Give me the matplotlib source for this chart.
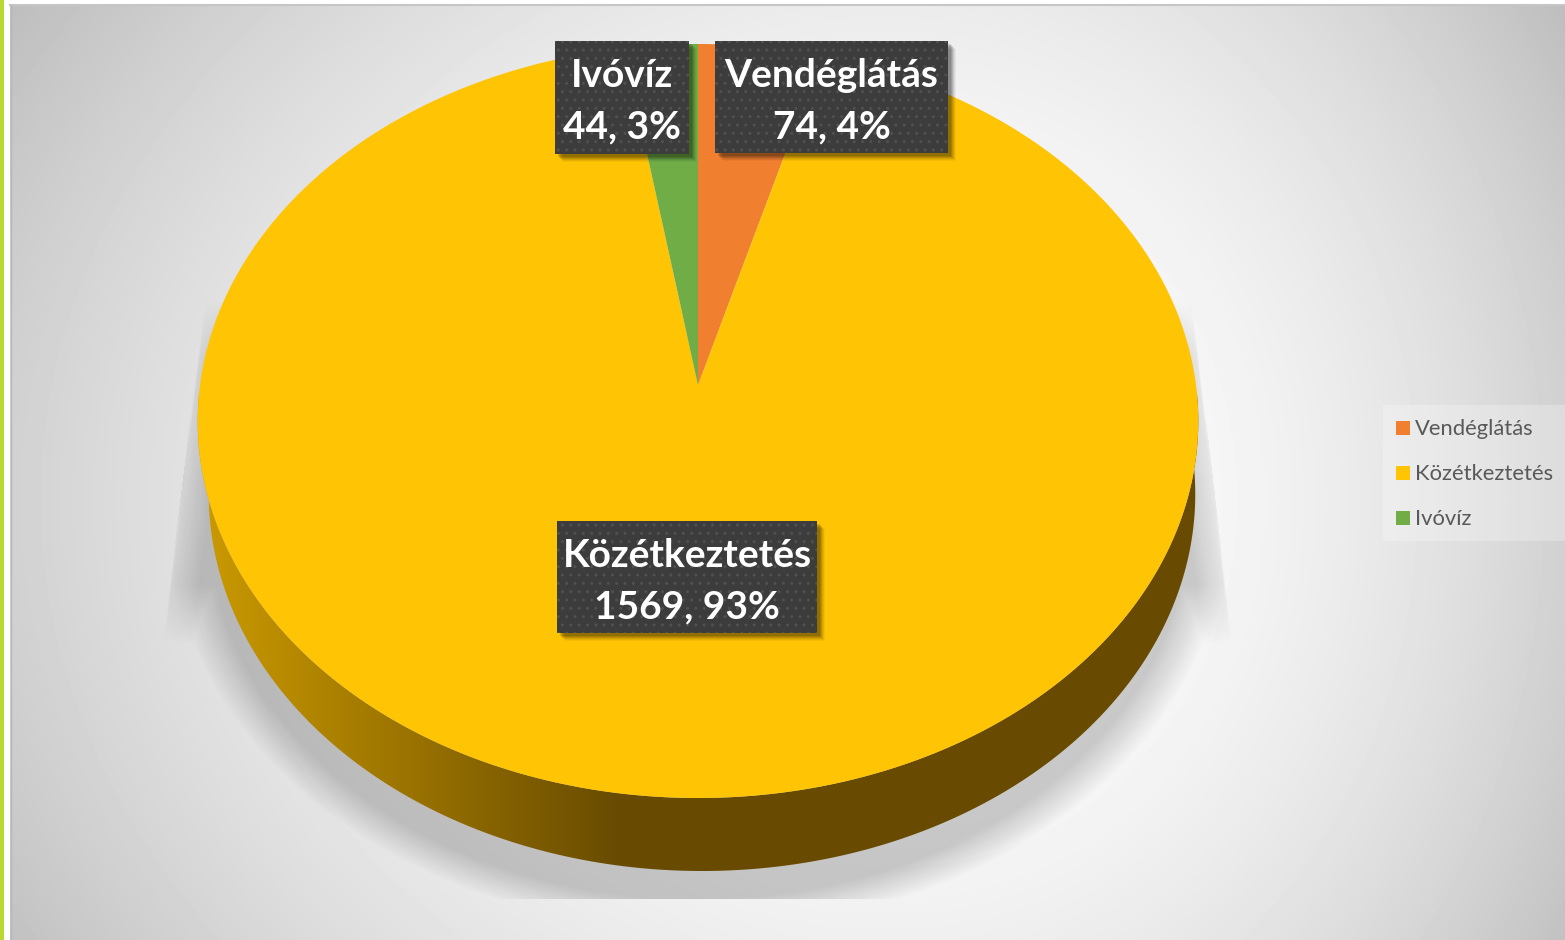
import numpy as np
import matplotlib
matplotlib.use('Agg')
import matplotlib.pyplot as plt
from matplotlib.patches import Rectangle, Polygon

categories = ['Vendéglátás', 'Közétkeztetés', 'Ivóvíz']
values = [74, 1569, 44]
colors = ['#F07F30', '#FFC404', '#70AD47']

W, H = 1565, 940
plt.rcParams['font.family'] = ['Lato', 'DejaVu Sans']

fig = plt.figure(figsize=(W / 100, H / 100), dpi=100)
ax = fig.add_axes([0, 0, 1, 1])
ax.set_xlim(0, W)
ax.set_ylim(H, 0)
ax.axis('off')

yy, xx = np.mgrid[0:H, 0:W] + 0.5


# perspective view of the unit circle, the hub lands above the ellipse middle
def project(t, k=498, drop=0, shift=0):
    u, v = np.sin(t), np.cos(t)
    c = 0.0955
    w = 1 + c * v
    return 698 + shift + k * u / w, (385 - 336.8 * v) / w + drop


# background
dx = np.where(xx > 880, ((xx - 880) / 685) ** 2.2, ((880 - xx) / 870) ** 1.9)
bg = 1 - 0.18 * dx - 0.075 * ((yy - 500) / 485) ** 2
ax.imshow(bg, cmap='gray', vmin=0, vmax=1, extent=[0, W, H, 0], zorder=0, aspect='auto')
ax.add_patch(Rectangle((0, 0), 10, H, fc='white', lw=0, zorder=1))
ax.add_patch(Rectangle((0, 0), W, 4, fc='white', lw=0, zorder=1))
ax.add_patch(Rectangle((0, 0), 3.5, H, fc='#B9D92F', lw=0, zorder=1))
ax.plot([10, W], [5, 5], color='#C6C6C6', lw=1.5, zorder=1)
ax.plot([10.5, 10.5], [5, H], color='#B8B8B8', lw=1, zorder=1)

# shadow on the floor
rs = np.sqrt(((xx - 698) / 510) ** 2 + ((yy - 520) / 395) ** 2)
sh = np.clip((1.04 - rs) / 0.08, 0, 1) * 0.19
side_l = 205 - (yy - 300) * 42 / 340
side_r = 1192 + (yy - 300) * 40 / 340
edge = np.minimum(xx - side_l, side_r - xx)
fade_up = np.clip((yy - 300) / 60, 0, 1)
fade_down = np.clip(1 - (yy - 585) / 60, 0, 1)
sh2 = (0.06 + 0.13 * np.clip(edge / 30, 0, 1)) * np.clip(edge / 2, 0, 1) * fade_up * fade_down
sh = np.maximum(sh * (yy > 420), sh2) * (edge > 0) * (yy < 899)
rgba = np.zeros((H, W, 4))
rgba[..., 3] = sh
ax.imshow(rgba, extent=[0, W, H, 0], zorder=2, aspect='auto')

# side wall
t = np.linspace(np.pi / 2 + 0.02, 3 * np.pi / 2 - 0.02, 300)
x_top, y_top = project(t)
x_bot, y_bot = project(t, k=491, drop=73, shift=4)
wall = Polygon(np.r_[np.c_[x_top, y_top], np.c_[x_bot, y_bot][::-1]], closed=True,
               fc='none', lw=0, transform=ax.transData)
ax.add_patch(wall)
f = np.clip((xx[0] - 207) / (620 - 207), 0, 1)
wall_rgb = np.zeros((1, W, 3))
wall_rgb[0, :, 0] = (202 + (104 - 202) * f) / 255
wall_rgb[0, :, 1] = (153 + (75 - 153) * f) / 255
wall_rgb[0, :, 2] = 0
im = ax.imshow(wall_rgb, extent=[0, W, H, 0], zorder=3, aspect='auto')
im.set_clip_path(wall)
ax.set_xlim(0, W)
ax.set_ylim(H, 0)

# slices, clockwise from 12 o'clock
angles = np.r_[0, np.cumsum(values)] / np.sum(values) * 2 * np.pi
for i in range(len(values)):
    t = np.linspace(angles[i], angles[i + 1], 400)
    x, y = project(t)
    ax.fill(np.r_[698, x], np.r_[385, y], color=colors[i], lw=0, zorder=4)

# data labels
label_boxes = [(715, 41, 233, 112), (557, 521, 260, 112), (555, 41, 134, 113)]
for name, val, (bx, by, bw, bh) in zip(categories, values, label_boxes):
    for off, a in [(8, 0.04), (7, 0.06), (6, 0.08), (5, 0.1), (4, 0.12), (3, 0.12)]:
        ax.add_patch(Rectangle((bx + off, by + off), bw, bh, fc='k', alpha=a, lw=0, zorder=5))
    ax.add_patch(Rectangle((bx, by), bw, bh, fc='#3C3C3C', ec='#505050', hatch='..', lw=0, zorder=6))
    pct = round(val / sum(values) * 100)
    ax.text(bx + bw / 2, by + bh / 2 + 4, f'{name}\n{val}, {pct}%', color='white', fontsize=28,
            fontweight='bold', ha='center', va='center', linespacing=1.57, zorder=7)

# legend
ax.add_patch(Rectangle((1383, 405), 182, 136, fc='white', alpha=0.25, lw=0, zorder=5))
for i, (name, col) in enumerate(zip(categories, colors)):
    y = 428 + i * 45
    ax.add_patch(Rectangle((1396, y - 7), 14, 14, fc=col, lw=0, zorder=6))
    ax.text(1415, y + 1, name, color='#595959', fontsize=15.8, va='center', ha='left', zorder=6)

fig.savefig('out.png', dpi=100)
